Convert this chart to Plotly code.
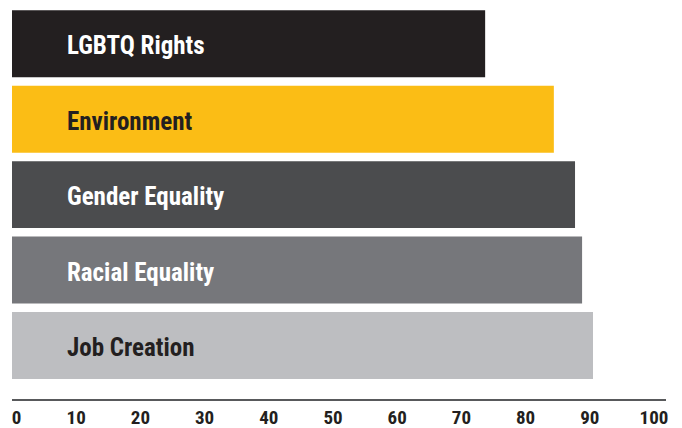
import plotly.graph_objects as go

categories = ["LGBTQ Rights", "Environment", "Gender Equality", "Racial Equality", "Job Creation"]
values = [73.7, 84.4, 87.7, 88.8, 90.5]
bar_colors = ["#231f20", "#fbbd15", "#4b4c4e", "#76777b", "#bdbec1"]
label_colors = ["#ffffff", "#231f20", "#ffffff", "#ffffff", "#231f20"]
tick_vals = [0, 10, 20, 30, 40, 50, 60, 70, 80, 90, 100]
tick_text = ["\u20070", "10", "20", "30", "40", "50", "60", "70", "80", "90", "100"]

FONT = "Roboto Condensed, Liberation Sans Narrow, sans-serif"

fig = go.Figure()
fig.add_trace(go.Bar(
    x=values, y=categories, orientation="h",
    marker=dict(color=bar_colors, line=dict(width=0)),
    hoverinfo="skip", showlegend=False,
))

for cat, col in zip(categories, label_colors):
    fig.add_annotation(
        x=0, y=cat, xref="x", yref="y", text="<b>%s</b>" % cat,
        showarrow=False, xanchor="left", xshift=53, yshift=-2,
        font=dict(family=FONT, size=25, color=col),
    )

fig.update_layout(
    width=682, height=428,
    margin=dict(l=12, r=16, t=6, b=29, pad=0),
    paper_bgcolor="white", plot_bgcolor="white",
    bargap=0.113,
    xaxis=dict(
        range=[0, 101.87], tickvals=tick_vals, ticktext=tick_text,
        showgrid=False, zeroline=False, showline=True,
        linecolor="#58595b", linewidth=1.5, ticks="",
        tickfont=dict(family=FONT, size=19, color="#231f20", weight="bold"),
        automargin=False, ticklabeloverflow="allow",
        fixedrange=True,
    ),
    yaxis=dict(
        categoryorder="array", categoryarray=categories,
        range=[4.709, -0.5], showticklabels=False,
        showgrid=False, zeroline=False, showline=False, fixedrange=True,
    ),
)

fig.write_html("out.html", config={"displayModeBar": False},
               post_script="document.body.style.margin='0';")
